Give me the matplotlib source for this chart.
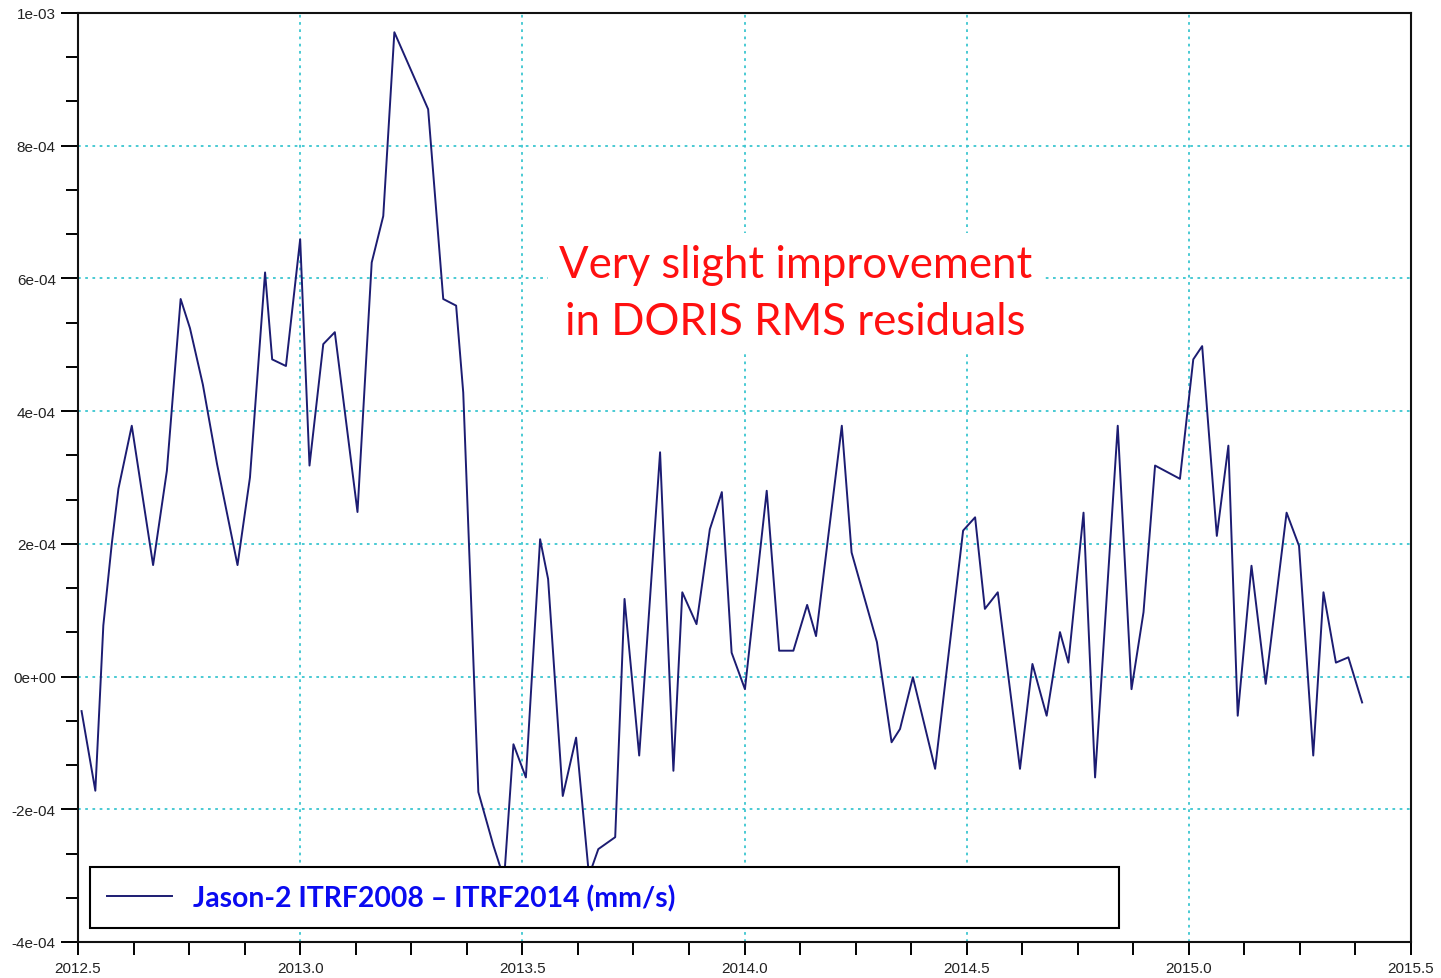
import numpy as np
import matplotlib
matplotlib.use("Agg")
import matplotlib.pyplot as plt
from matplotlib.ticker import MultipleLocator

# decimal year of each sample
years = [
    2012.508, 2012.539, 2012.544, 2012.557, 2012.576, 2012.591, 2012.621,
    2012.669, 2012.700, 2012.731, 2012.752, 2012.781, 2012.813, 2012.859,
    2012.887, 2012.921, 2012.937, 2012.968, 2013.000, 2013.021, 2013.052,
    2013.078, 2013.129, 2013.161, 2013.187, 2013.212, 2013.288, 2013.322,
    2013.351, 2013.367, 2013.401, 2013.435, 2013.459, 2013.480, 2013.508,
    2013.540, 2013.558, 2013.591, 2013.621, 2013.650, 2013.671, 2013.709,
    2013.730, 2013.763, 2013.810, 2013.840, 2013.860, 2013.892, 2013.922,
    2013.949, 2013.971, 2014.001, 2014.050, 2014.078, 2014.110, 2014.141,
    2014.161, 2014.219, 2014.241, 2014.298, 2014.331, 2014.350, 2014.379,
    2014.429, 2014.492, 2014.519, 2014.541, 2014.570, 2014.620, 2014.648,
    2014.680, 2014.710, 2014.729, 2014.763, 2014.789, 2014.840, 2014.871,
    2014.898, 2014.924, 2014.980, 2015.010, 2015.030, 2015.063, 2015.089,
    2015.110, 2015.141, 2015.173, 2015.220, 2015.248, 2015.280, 2015.303,
    2015.331, 2015.359, 2015.390,
]

# ITRF2008 - ITRF2014 difference, in units of 1e-4 mm/s
diff_e4 = [
    -0.52, -1.72, -1.04, 0.77, 2.00, 2.83, 3.78,
    1.68, 3.10, 5.69, 5.25, 4.40, 3.20, 1.68,
    3.00, 6.09, 4.78, 4.68, 6.59, 3.18, 5.01,
    5.19, 2.48, 6.24, 6.94, 9.71, 8.55, 5.69,
    5.59, 4.28, -1.74, -2.55, -3.05, -1.02, -1.52,
    2.07, 1.47, -1.80, -0.92, -3.00, -2.60, -2.42,
    1.17, -1.19, 3.38, -1.42, 1.27, 0.79, 2.22,
    2.78, 0.36, -0.19, 2.80, 0.39, 0.39, 1.08,
    0.61, 3.78, 1.87, 0.52, -0.99, -0.79, -0.01,
    -1.39, 2.20, 2.40, 1.02, 1.27, -1.39, 0.19,
    -0.59, 0.67, 0.21, 2.47, -1.52, 3.78, -0.19,
    0.97, 3.18, 2.98, 4.78, 4.98, 2.12, 3.48,
    -0.59, 1.67, -0.11, 2.47, 1.97, -1.19, 1.27,
    0.21, 0.29, -0.39,
]

x_ticks = [2012.5, 2013.0, 2013.5, 2014.0, 2014.5, 2015.0, 2015.5]
x_labels = ["2012.5", "2013.0", "2013.5", "2014.0", "2014.5", "2015.0", "2015.5"]
y_ticks = [-4e-4, -2e-4, 0, 2e-4, 4e-4, 6e-4, 8e-4, 1e-3]
y_labels = ["-4e-04", "-2e-04", "0e+00", "2e-04", "4e-04", "6e-04", "8e-04", "1e-03"]

legend_label = "Jason-2 ITRF2008 \u2013 ITRF2014 (mm/s)"
note = "Very slight improvement\nin DORIS RMS residuals"

resid = np.array(diff_e4) * 1e-4

fig = plt.figure(figsize=(14.41, 9.79), dpi=100)
ax = fig.add_axes([78 / 1441, 1 - 943 / 979, 1333 / 1441, 929 / 979])

line, = ax.plot(years, resid, color="#1c1c72", lw=1.4, label=legend_label)

ax.set_xlim(2012.5, 2015.5)
ax.set_ylim(-4e-4, 1e-3)
ax.set_xticks(x_ticks)
ax.set_xticklabels(x_labels)
ax.set_yticks(y_ticks)
ax.set_yticklabels(y_labels)
ax.xaxis.set_minor_locator(MultipleLocator(0.125))
ax.yaxis.set_minor_locator(MultipleLocator(2e-4 / 3))

for lab in ax.get_xticklabels() + ax.get_yticklabels():
    lab.set_fontfamily("Liberation Sans")
    lab.set_fontsize(11)
    lab.set_color("#222222")

ax.tick_params(axis="x", which="both", direction="out", length=9, width=1.4, pad=5)
ax.tick_params(axis="y", which="major", direction="out", length=12, width=1.4, pad=4)
ax.tick_params(axis="y", which="minor", direction="out", length=8.5, width=1.4)
ax.tick_params(top=False, right=False)

for s in ax.spines.values():
    s.set_linewidth(1.5)
    s.set_color("#111111")

ax.grid(True, which="major", color="#3cc6d0", linestyle=(0, (1.5, 2.5)), lw=1.3)
ax.set_axisbelow(True)

# red note with a white patch that hides the grid behind it
ax.text(2014.114, 5.78e-4, note, color="#ff1010",
        fontsize=31.5, family="Lato", ha="center", va="center", linespacing=1.5,
        bbox=dict(facecolor="white", edgecolor="none", pad=8), zorder=3)

leg = ax.legend(handles=[line], loc="lower left",
                bbox_to_anchor=(12 / 1333, 14 / 929, 1029 / 1333, 62 / 929),
                mode="expand", borderaxespad=0, fancybox=False, framealpha=1,
                edgecolor="black", handlelength=2.3, handletextpad=0.75,
                borderpad=0.6, prop={"family": "Lato", "weight": "bold", "size": 20.4})
leg.get_frame().set_linewidth(1.5)
for t in leg.get_texts():
    t.set_color("#0a0af0")
leg.set_zorder(5)

fig.savefig("out.png", dpi=100)
